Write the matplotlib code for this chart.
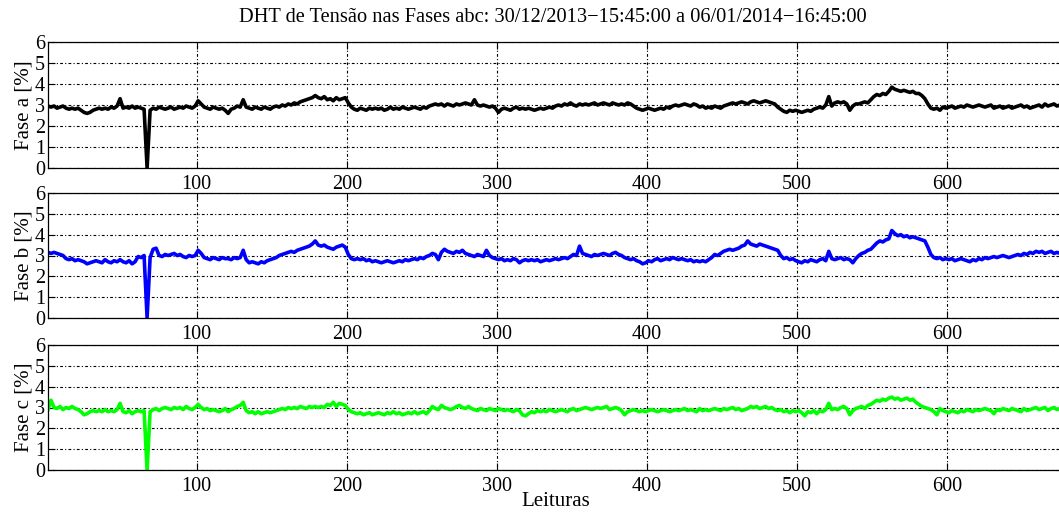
import numpy as np
import matplotlib
matplotlib.use("Agg")
import matplotlib.pyplot as plt

plt.rcParams['font.family'] = ['Liberation Serif', 'DejaVu Serif']

title = "DHT de Tensão nas Fases abc: 30/12/2013\u221215:45:00 a 06/01/2014\u221216:45:00"
xlabel = "Leituras"
ylabels = ["Fase a [%]", "Fase b [%]", "Fase c [%]"]
colors = ["#000000", "#0000ff", "#00ff00"]
xticks = [100, 200, 300, 400, 500, 600]
yticks = [0, 1, 2, 3, 4, 5, 6]

# readings 1, 3, 5, ..., 677
leituras = list(range(1, 678, 2))

fase_a = [
    2.95, 2.90, 2.95, 2.85, 2.90, 2.95, 2.85, 2.80, 2.85, 2.80,
    2.85, 2.75, 2.65, 2.60, 2.65, 2.75, 2.80, 2.85, 2.80, 2.85,
    2.80, 2.90, 2.85, 2.95, 3.30, 2.85, 2.90, 2.85, 2.95, 2.85,
    2.90, 2.85, 2.80, 0.00, 2.75, 2.85, 2.80, 2.90, 2.85, 2.80,
    2.85, 2.90, 2.80, 2.85, 2.90, 2.85, 2.95, 2.90, 2.85, 2.95,
    3.20, 3.05, 2.90, 2.85, 2.80, 2.90, 2.85, 2.80, 2.85, 2.75,
    2.60, 2.80, 2.85, 2.95, 2.90, 3.25, 2.90, 2.85, 2.80, 2.90,
    2.85, 2.80, 2.90, 2.85, 2.80, 2.90, 2.95, 2.90, 3.00, 2.95,
    3.05, 3.00, 3.10, 3.05, 3.15, 3.20, 3.25, 3.30, 3.35, 3.45,
    3.35, 3.30, 3.40, 3.25, 3.30, 3.20, 3.35, 3.25, 3.30, 3.35,
    3.10, 2.90, 2.80, 2.75, 2.85, 2.80, 2.75, 2.85, 2.80, 2.85,
    2.80, 2.85, 2.75, 2.80, 2.90, 2.80, 2.85, 2.80, 2.90, 2.85,
    2.80, 2.85, 2.90, 2.85, 2.80, 2.90, 2.85, 2.95, 3.00, 3.05,
    3.00, 3.05, 2.95, 3.05, 3.00, 2.95, 3.05, 3.00, 3.05, 3.10,
    3.05, 3.00, 3.25, 3.00, 2.95, 3.00, 2.95, 2.90, 2.95, 2.85,
    2.65, 2.80, 2.85, 2.80, 2.75, 2.85, 2.90, 2.80, 2.85, 2.80,
    2.85, 2.80, 2.75, 2.80, 2.85, 2.80, 2.85, 2.90, 2.85, 2.95,
    3.00, 2.95, 3.05, 3.00, 3.10, 3.00, 2.95, 3.05, 3.00, 3.05,
    3.00, 3.05, 3.10, 3.00, 3.05, 3.10, 3.05, 3.00, 3.10, 3.05,
    3.00, 3.05, 3.00, 3.10, 3.05, 2.95, 2.85, 2.80, 2.75, 2.80,
    2.85, 2.80, 2.75, 2.80, 2.85, 2.80, 2.90, 2.85, 2.95, 3.00,
    2.95, 3.00, 3.05, 3.00, 2.95, 3.05, 3.00, 2.90, 2.95, 2.85,
    2.90, 2.85, 2.95, 2.90, 2.85, 2.95, 3.00, 3.05, 3.10, 3.05,
    3.10, 3.15, 3.10, 3.05, 3.15, 3.20, 3.15, 3.10, 3.15, 3.20,
    3.15, 3.10, 3.05, 2.90, 2.80, 2.70, 2.65, 2.75, 2.70, 2.75,
    2.70, 2.65, 2.70, 2.75, 2.70, 2.80, 2.85, 2.90, 2.85, 3.00,
    3.40, 2.95, 3.10, 3.15, 3.10, 3.15, 3.05, 2.75, 2.95, 3.05,
    3.05, 3.10, 3.15, 3.10, 3.25, 3.40, 3.50, 3.45, 3.55, 3.50,
    3.65, 3.85, 3.75, 3.70, 3.65, 3.70, 3.65, 3.60, 3.65, 3.55,
    3.55, 3.45, 3.30, 3.05, 2.85, 2.80, 2.85, 2.75, 2.90, 2.85,
    2.90, 2.95, 2.85, 2.90, 2.95, 2.90, 3.00, 2.95, 2.90, 2.95,
    3.00, 2.95, 2.90, 2.95, 3.00, 2.85, 2.90, 2.95, 2.85, 2.90,
    2.95, 2.85, 2.90, 2.95, 3.00, 2.90, 2.95, 2.85, 2.90, 2.95,
    3.00, 2.90, 3.05, 2.95, 3.00, 3.05, 2.95, 3.00, 3.05,
]

fase_b = [
    3.15, 3.10, 3.15, 3.10, 3.05, 3.00, 2.85, 2.80, 2.85, 2.75,
    2.80, 2.75, 2.70, 2.60, 2.65, 2.70, 2.75, 2.70, 2.65, 2.80,
    2.70, 2.65, 2.75, 2.70, 2.80, 2.70, 2.65, 2.75, 2.60, 2.70,
    2.95, 2.90, 3.00, 0.00, 2.90, 3.30, 3.35, 3.00, 2.95, 3.05,
    3.00, 3.05, 3.10, 3.00, 3.05, 2.95, 2.90, 3.00, 2.95, 3.00,
    3.25, 3.10, 2.90, 2.85, 2.80, 2.90, 2.85, 2.80, 2.90, 2.85,
    2.85, 2.80, 2.90, 2.85, 2.90, 3.25, 2.80, 2.65, 2.70, 2.65,
    2.60, 2.70, 2.65, 2.75, 2.80, 2.85, 2.90, 3.00, 3.05, 3.10,
    3.15, 3.20, 3.15, 3.25, 3.30, 3.35, 3.40, 3.45, 3.55, 3.70,
    3.50, 3.45, 3.50, 3.40, 3.35, 3.30, 3.40, 3.45, 3.50, 3.40,
    3.05, 2.85, 2.80, 2.85, 2.80, 2.85, 2.75, 2.80, 2.70, 2.75,
    2.70, 2.65, 2.70, 2.75, 2.70, 2.65, 2.70, 2.75, 2.70, 2.80,
    2.75, 2.80, 2.85, 2.80, 2.90, 2.85, 2.95, 3.00, 3.10, 3.05,
    2.80, 3.15, 3.30, 3.20, 3.15, 3.10, 3.20, 3.15, 3.25, 3.10,
    3.05, 3.00, 2.95, 3.05, 3.00, 2.95, 3.25, 3.00, 2.90, 2.85,
    2.80, 2.85, 2.75, 2.80, 2.75, 2.85, 2.80, 2.65, 2.75, 2.80,
    2.75, 2.80, 2.75, 2.80, 2.70, 2.75, 2.80, 2.75, 2.80, 2.85,
    2.80, 2.85, 2.90, 2.85, 2.95, 3.05, 3.00, 3.45, 3.10, 3.05,
    3.00, 2.95, 3.05, 3.00, 3.05, 3.10, 3.05, 3.00, 3.10, 3.15,
    3.05, 3.00, 2.90, 2.85, 2.80, 2.85, 2.75, 2.70, 2.60, 2.65,
    2.75, 2.70, 2.80, 2.85, 2.75, 2.80, 2.85, 2.80, 2.90, 2.85,
    2.80, 2.85, 2.80, 2.75, 2.80, 2.70, 2.75, 2.70, 2.75, 2.70,
    2.80, 2.90, 3.05, 3.00, 3.10, 3.20, 3.25, 3.30, 3.25, 3.30,
    3.35, 3.45, 3.50, 3.70, 3.55, 3.50, 3.45, 3.55, 3.50, 3.45,
    3.40, 3.35, 3.30, 3.25, 3.00, 2.85, 2.90, 2.80, 2.85, 2.75,
    2.70, 2.65, 2.75, 2.70, 2.80, 2.75, 2.70, 2.80, 2.85, 2.75,
    3.20, 2.85, 2.80, 2.85, 2.90, 2.80, 2.85, 2.80, 2.65, 2.85,
    3.00, 3.10, 3.15, 3.25, 3.30, 3.45, 3.60, 3.70, 3.65, 3.75,
    3.80, 4.20, 4.05, 3.95, 4.00, 3.90, 3.95, 3.85, 3.90, 3.85,
    3.80, 3.75, 3.70, 3.40, 3.05, 2.90, 2.85, 2.90, 2.80, 2.85,
    2.80, 2.85, 2.75, 2.80, 2.85, 2.80, 2.75, 2.70, 2.80, 2.75,
    2.85, 2.80, 2.90, 2.85, 2.90, 2.95, 2.90, 2.95, 3.00, 2.95,
    2.90, 2.95, 3.00, 3.05, 3.00, 3.10, 3.05, 3.15, 3.10, 3.20,
    3.15, 3.20, 3.10, 3.15, 3.20, 3.10, 3.15, 3.10, 3.15,
]

fase_c = [
    2.90, 3.35, 3.00, 2.95, 3.05, 2.90, 3.00, 2.95, 3.05, 2.95,
    2.90, 2.80, 2.65, 2.70, 2.80, 2.85, 2.80, 2.85, 2.80, 2.90,
    2.80, 2.85, 2.80, 2.90, 3.20, 2.80, 2.75, 2.85, 2.70, 2.80,
    2.85, 2.80, 2.85, 0.00, 2.80, 2.90, 2.95, 2.85, 2.95, 3.00,
    2.95, 2.90, 3.00, 2.95, 3.00, 2.90, 3.05, 2.95, 2.90, 3.00,
    3.15, 3.00, 2.90, 2.95, 2.85, 2.90, 2.85, 2.80, 2.85, 2.95,
    2.80, 2.90, 2.95, 3.05, 3.10, 3.25, 2.85, 2.75, 2.80, 2.70,
    2.80, 2.70, 2.75, 2.80, 2.75, 2.80, 2.85, 2.90, 2.95, 2.90,
    3.00, 2.95, 3.00, 2.95, 3.05, 3.00, 2.95, 3.05, 3.00, 3.05,
    3.00, 3.05, 3.00, 3.15, 3.10, 3.25, 3.05, 3.20, 3.15, 3.10,
    2.90, 2.80, 2.75, 2.70, 2.75, 2.65, 2.70, 2.75, 2.65, 2.70,
    2.75, 2.70, 2.65, 2.75, 2.70, 2.80, 2.70, 2.75, 2.65, 2.70,
    2.75, 2.70, 2.80, 2.70, 2.75, 2.80, 2.70, 2.85, 3.05, 2.95,
    2.90, 3.10, 3.00, 2.95, 2.90, 2.95, 3.05, 3.10, 3.00, 2.95,
    3.05, 2.95, 2.90, 2.85, 2.95, 2.90, 2.85, 2.95, 2.90, 2.85,
    2.95, 2.90, 2.85, 2.90, 2.85, 2.80, 2.90, 2.85, 2.65, 2.60,
    2.70, 2.80, 2.75, 2.85, 2.80, 2.85, 2.80, 2.90, 2.85, 2.80,
    2.85, 2.90, 2.85, 2.80, 2.90, 2.95, 2.85, 2.90, 2.95, 3.00,
    2.95, 2.90, 2.95, 3.00, 2.95, 3.00, 3.05, 2.90, 2.95, 3.00,
    2.95, 2.85, 2.65, 2.80, 2.85, 2.90, 2.85, 2.80, 2.85, 2.80,
    2.85, 2.90, 2.85, 2.80, 2.85, 2.90, 2.85, 2.80, 2.85, 2.90,
    2.85, 2.90, 2.95, 2.85, 2.90, 2.85, 2.80, 2.95, 2.85, 2.90,
    2.85, 2.90, 2.95, 2.90, 2.85, 2.95, 2.90, 2.95, 3.00, 2.90,
    2.95, 2.85, 2.90, 2.95, 3.05, 3.00, 3.05, 2.95, 3.00, 3.05,
    2.95, 3.00, 2.90, 2.85, 2.90, 2.80, 2.85, 2.75, 2.85, 2.80,
    2.85, 2.75, 2.60, 2.80, 2.75, 2.85, 2.70, 2.85, 2.80, 2.90,
    3.20, 2.90, 2.95, 2.90, 3.00, 3.05, 2.95, 2.65, 2.85, 2.95,
    3.00, 3.05, 2.95, 3.10, 3.15, 3.25, 3.35, 3.30, 3.40, 3.35,
    3.45, 3.50, 3.40, 3.45, 3.35, 3.40, 3.45, 3.35, 3.40, 3.25,
    3.15, 3.05, 3.00, 2.95, 2.90, 2.80, 2.65, 2.95, 2.85, 2.80,
    2.75, 2.85, 2.80, 2.75, 2.85, 2.80, 2.90, 2.85, 2.80, 2.90,
    2.85, 2.90, 2.95, 2.90, 2.85, 2.70, 2.90, 2.85, 2.95, 2.90,
    2.85, 2.95, 2.90, 2.85, 2.80, 2.95, 2.85, 2.90, 2.95, 3.00,
    2.90, 2.95, 3.00, 2.85, 2.95, 3.00, 2.90, 2.95, 2.90,
]

series = [fase_a, fase_b, fase_c]

W, H = 1059, 513
fig = plt.figure(figsize=(W / 100, H / 100), dpi=100)

# panel pixel boxes (top, bottom)
boxes = [(42, 168), (193, 318), (345, 470)]
left_px, right_px = 48, 1063

axes = []
for i, (top, bot) in enumerate(boxes):
    ax = fig.add_axes([left_px / W, 1 - bot / H, (right_px - left_px) / W, (bot - top) / H])
    ax.plot(leituras, series[i], color=colors[i], lw=2.6, solid_joinstyle='round')
    ax.set_xlim(1, 677)
    ax.set_ylim(0, 6)
    ax.set_xticks(xticks)
    ax.set_yticks(yticks)
    ax.grid(True, color='black', linestyle=(0, (1, 2, 2.5, 2)), linewidth=0.8)
    ax.tick_params(direction='in', length=5, width=0.8, top=True, right=True,
                   labelsize=14.5, pad=2, colors='black')
    ax.tick_params(axis='x', pad=5)
    for s in ax.spines.values():
        s.set_linewidth(0.9)
    ax.set_ylabel(ylabels[i], fontsize=15, labelpad=1)
    axes.append(ax)

axes[-1].set_xlabel(xlabel, fontsize=15, labelpad=-3)
fig.text(553 / W, 1 - 18 / H, title, ha='center', va='center', fontsize=14.7)

fig.savefig("out.png", dpi=100)
